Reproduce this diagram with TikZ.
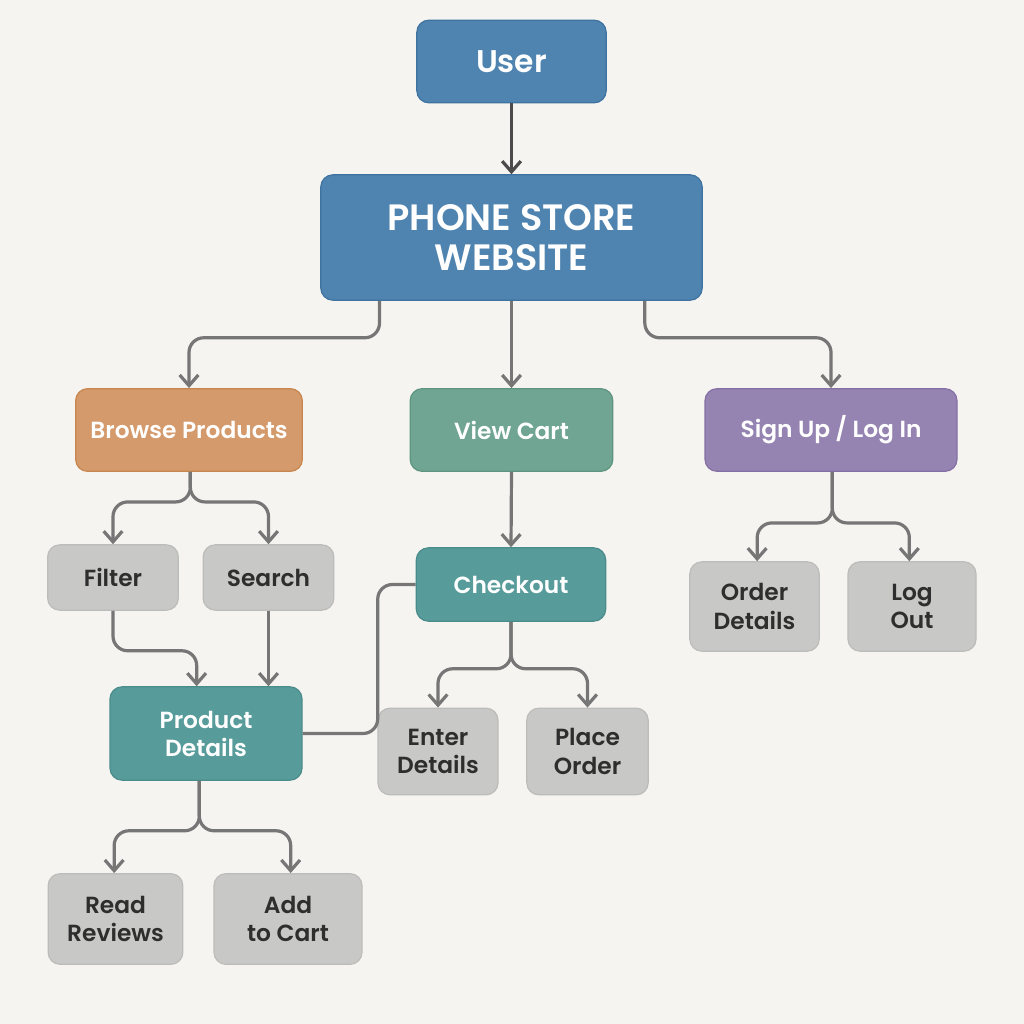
\documentclass[tikz,border=0pt]{standalone}
\usepackage{fontspec}
\setmainfont{Poppins}[UprightFont=* SemiBold, BoldFont=* Bold]
\usetikzlibrary{arrows.meta}

\definecolor{bgpaper}{RGB}{246,244,240}
\definecolor{lineg}{RGB}{118,118,118}
\definecolor{linedk}{RGB}{75,75,75}
\definecolor{bluef}{RGB}{78,132,175}
\definecolor{blued}{RGB}{62,114,160}
\definecolor{orangef}{RGB}{212,154,108}
\definecolor{oranged}{RGB}{200,134,78}
\definecolor{greenf}{RGB}{111,165,146}
\definecolor{greend}{RGB}{94,149,128}
\definecolor{purplef}{RGB}{149,131,177}
\definecolor{purpled}{RGB}{133,112,165}
\definecolor{tealf}{RGB}{87,156,154}
\definecolor{teald}{RGB}{74,140,139}
\definecolor{grayf}{RGB}{200,200,198}
\definecolor{grayd}{RGB}{188,188,186}
\definecolor{graytxt}{RGB}{46,46,46}

\tikzset{
  box/.style={rounded corners=9pt, line width=0.9pt, align=center, inner sep=0pt, font=\fontsize{17.5}{21}\selectfont},
  bluebox/.style={box, fill=bluef, draw=blued, text=white},
  orangebox/.style={box, fill=orangef, draw=oranged, text=white},
  greenbox/.style={box, fill=greenf, draw=greend, text=white},
  purplebox/.style={box, fill=purplef, draw=purpled, text=white},
  tealbox/.style={box, fill=tealf, draw=teald, text=white},
  graybox/.style={box, fill=grayf, draw=grayd, text=graytxt, font=\fontsize{17.5}{21.5}\selectfont},
  conn/.style={draw=lineg, line width=2.4pt, rounded corners=11pt, -{Straight Barb[length=8pt, width=14pt, line width=2.4pt]}},
  link/.style={draw=lineg, line width=2.4pt, rounded corners=11pt}
}

\begin{document}
\begin{tikzpicture}[x=0.75pt,y=-0.75pt]
  \fill[bgpaper] (0,0) rectangle (1024,1024);
  \useasboundingbox (0,0) rectangle (1024,1024);

  % top level
  \node[bluebox, minimum width=142pt, minimum height=62pt, font=\fontsize{23.5}{26}\selectfont] (user) at (511.5,61.5) {User};
  \node[bluebox, minimum width=286pt, minimum height=94pt, font=\fontsize{27.5}{30.5}\selectfont] (web) at (511.5,237.5) {PHONE STORE\\WEBSITE};

  % second level
  \node[orangebox, minimum width=170pt, minimum height=62pt] (browse) at (189,430) {Browse Products};
  \node[greenbox, minimum width=152pt, minimum height=62pt] (cart) at (511.5,430) {View Cart};
  \node[purplebox, minimum width=189pt, minimum height=62pt] (sign) at (831,430) {Sign Up / Log In};

  % third level
  \node[graybox, minimum width=98pt, minimum height=49pt] (filter) at (113,577.5) {Filter};
  \node[graybox, minimum width=98pt, minimum height=49pt] (search) at (268.5,577.5) {Search};
  \node[tealbox, minimum width=142pt, minimum height=55pt] (checkout) at (511,584.5) {Checkout};
  \node[graybox, minimum width=97pt, minimum height=67pt] (order) at (754.5,606.5) {Order\\Details};
  \node[graybox, minimum width=96pt, minimum height=67pt] (logout) at (912,606.5) {Log\\Out};

  % fourth level
  \node[tealbox, minimum width=144pt, minimum height=70pt] (product) at (206,733.5) {Product\\Details};
  \node[graybox, minimum width=90pt, minimum height=65pt] (enter) at (438,751.5) {Enter\\Details};
  \node[graybox, minimum width=91pt, minimum height=65pt] (place) at (587.5,751.5) {Place\\Order};

  % fifth level
  \node[graybox, minimum width=101pt, minimum height=68pt] (reviews) at (115.5,919) {Read\\Reviews};
  \node[graybox, minimum width=111pt, minimum height=68pt] (addcart) at (288,919) {Add\\to Cart};

  % connectors
  \draw[conn, draw=linedk] (user.south) -- (web.north);
  \draw[conn] ([xshift=-99pt]web.south) -- ++(0,37) -| (browse.north);
  \draw[conn] (web.south) -- (cart.north);
  \draw[conn] ([xshift=100pt]web.south) -- ++(0,37) -| (sign.north);

  \draw[conn] ([xshift=1pt]browse.south) -- ++(0,30) -| (filter.north);
  \draw[conn] ([xshift=1pt]browse.south) -- ++(0,30) -| (search.north);

  \draw[conn] (filter.south) -- ++(0,40) -| ([xshift=-7pt]product.north);
  \draw[conn] (search.south) -- (search.south |- product.north);

  \draw[conn] (cart.south) -- (checkout.north);
  \draw[link] (checkout.west) -- ++(-38,0) |- (product.east);
  \draw[conn] (checkout.south) -- ++(0,47) -| (enter.north);
  \draw[conn] (checkout.south) -- ++(0,47) -| (place.north);

  \draw[conn] ([xshift=1pt]sign.south) -- ++(0,51) -| ([xshift=2pt]order.north);
  \draw[conn] ([xshift=1pt]sign.south) -- ++(0,51) -| ([xshift=-2pt]logout.north);

  \draw[conn] ([xshift=-5pt]product.south) -- ++(0,50) -| ([xshift=-1pt]reviews.north);
  \draw[conn] ([xshift=-5pt]product.south) -- ++(0,50) -| ([xshift=2pt]addcart.north);
\end{tikzpicture}
\end{document}
